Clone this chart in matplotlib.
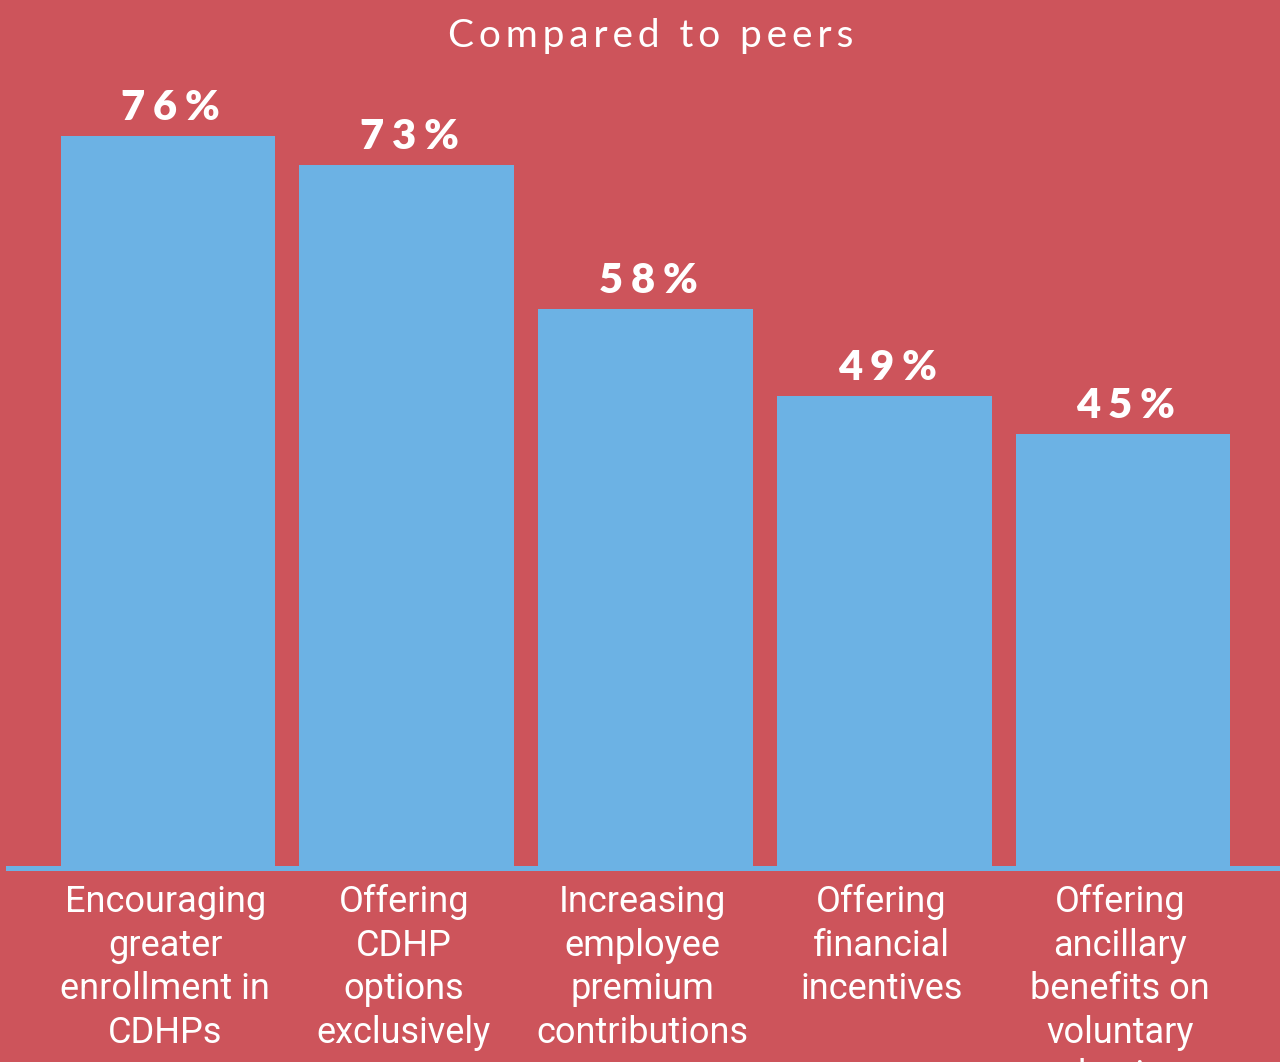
import matplotlib
matplotlib.use('Agg')
from matplotlib import pyplot as plt

categories = [
    'Encouraging\ngreater\nenrollment in\nCDHPs',
    'Offering\nCDHP\noptions\nexclusively',
    'Increasing\nemployee\npremium\ncontributions',
    'Offering\nfinancial\nincentives',
    'Offering\nancillary\nbenefits on\nvoluntary\nbasis',
]
values = [76, 73, 58, 49, 45]
title = 'Compared to peers'

bg = '#CD545B'
bar_color = '#6CB2E4'


def spaced(s, sep='\u200a'):
    return sep.join(s)


fig = plt.figure(figsize=(12.8, 10.62), dpi=100, facecolor=bg)
ax = fig.add_axes([0, 0, 1, 1])
ax.set_facecolor(bg)

x = list(range(len(values)))
ax.bar(x, values, width=0.9, color=bar_color, zorder=3)
ax.axhline(-0.2, xmin=8 / 1280, xmax=1, color=bar_color, lw=3.6, zorder=2)

ax.set_xlim(-0.7037, 4.6576)
ax.set_ylim(-20.42, 90.21)
ax.axis('off')

for xi, v in zip(x, values):
    ax.annotate(spaced(f'{v}%', '\u2009\u200a'), (xi, v), xytext=(2, 11.5), textcoords='offset points',
                ha='center', va='baseline', color='white', fontsize=30,
                fontweight='heavy', family=['Lato', 'DejaVu Sans'])

for xi, lab in zip(x, categories):
    ax.annotate(lab, (xi, 0), xytext=(-2, -13), textcoords='offset points',
                ha='center', va='top', color='white', fontsize=26,
                linespacing=1.27, family=['Roboto', 'DejaVu Sans'],
                annotation_clip=False)

fig.text(651 / 1280, 1 - 36 / 1062, spaced(title, '\u2009'), ha='center', va='center',
         color='white', fontsize=28, family=['Lato', 'DejaVu Sans'])

fig.savefig('out.png', dpi=100, facecolor=bg)
